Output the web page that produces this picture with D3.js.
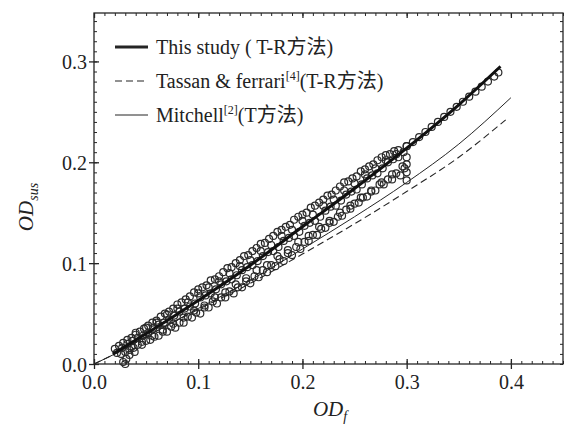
<!DOCTYPE html>
<html>
<head>
<meta charset="utf-8">
<script src="https://cdn.jsdelivr.net/npm/d3@7"></script>
<style>
  body { margin: 0; background: #fff; }
  svg text { font-family: "Liberation Serif", "Times New Roman", "Noto Sans CJK SC", serif; fill: #222; }
</style>
</head>
<body>
<div id="chart"></div>
<script>
// tick labels
var xTicks = [0.0, 0.1, 0.2, 0.3, 0.4];
var yTicks = [0.0, 0.1, 0.2, 0.3];

var trackUpper = [[0.020,0.015],[0.028,0.021],[0.036,0.026],[0.044,0.032],[0.052,0.038],[0.060,0.043],[0.068,0.050],[0.076,0.055],[0.084,0.061],[0.092,0.067],[0.100,0.074],[0.108,0.078],[0.116,0.084],[0.124,0.091],[0.132,0.096],[0.140,0.103],[0.148,0.108],[0.156,0.115],[0.164,0.120],[0.172,0.127],[0.180,0.133],[0.188,0.138],[0.196,0.146],[0.204,0.150],[0.212,0.157],[0.220,0.163],[0.228,0.168],[0.236,0.176],[0.244,0.181],[0.252,0.186],[0.260,0.193],[0.268,0.198],[0.276,0.205],[0.284,0.208],[0.292,0.212],[0.300,0.216]];
var trackUpper2 = [[0.024,0.018],[0.032,0.024],[0.040,0.031],[0.048,0.035],[0.056,0.041],[0.064,0.047],[0.072,0.052],[0.080,0.059],[0.088,0.064],[0.096,0.071],[0.104,0.076],[0.112,0.083],[0.120,0.087],[0.128,0.095],[0.136,0.100],[0.144,0.107],[0.152,0.112],[0.160,0.119],[0.168,0.124],[0.176,0.131],[0.184,0.136],[0.192,0.143],[0.200,0.148],[0.208,0.155],[0.216,0.160],[0.224,0.167],[0.232,0.172],[0.240,0.180],[0.248,0.184],[0.256,0.191],[0.264,0.196],[0.272,0.202],[0.280,0.207],[0.288,0.211]];
var trackMidUpper = [[0.040,0.029],[0.050,0.036],[0.060,0.041],[0.070,0.049],[0.080,0.055],[0.090,0.061],[0.100,0.070],[0.110,0.076],[0.120,0.082],[0.130,0.090],[0.140,0.097],[0.150,0.103],[0.160,0.112],[0.170,0.118],[0.180,0.127],[0.190,0.133],[0.200,0.142],[0.210,0.148],[0.220,0.157],[0.230,0.163],[0.240,0.172],[0.250,0.179],[0.260,0.188],[0.270,0.194],[0.280,0.202],[0.290,0.208]];
var trackCenter = [[0.022,0.011],[0.032,0.020],[0.042,0.026],[0.052,0.031],[0.062,0.039],[0.072,0.044],[0.082,0.052],[0.092,0.057],[0.102,0.066],[0.112,0.070],[0.122,0.079],[0.132,0.084],[0.142,0.093],[0.152,0.098],[0.162,0.107],[0.172,0.112],[0.182,0.122],[0.192,0.127],[0.202,0.137],[0.212,0.142],[0.222,0.152],[0.232,0.157],[0.242,0.168],[0.252,0.173],[0.262,0.184],[0.272,0.189],[0.282,0.200],[0.292,0.205],[0.300,0.216],[0.306,0.220],[0.312,0.225],[0.318,0.230],[0.324,0.235],[0.330,0.240],[0.336,0.245],[0.342,0.250],[0.348,0.255],[0.354,0.260],[0.360,0.265],[0.366,0.270],[0.372,0.275],[0.378,0.280],[0.384,0.285],[0.388,0.289]];
var trackCenter2 = [[0.027,0.016],[0.037,0.023],[0.047,0.028],[0.057,0.036],[0.067,0.041],[0.077,0.048],[0.087,0.055],[0.097,0.060],[0.107,0.068],[0.117,0.074],[0.127,0.082],[0.137,0.088],[0.147,0.096],[0.157,0.102],[0.167,0.111],[0.177,0.116],[0.187,0.125],[0.197,0.131],[0.207,0.140],[0.217,0.146],[0.227,0.156],[0.237,0.162],[0.247,0.171],[0.257,0.178],[0.267,0.187],[0.277,0.194],[0.287,0.203],[0.297,0.210]];
var trackMidLower = [[0.026,0.010],[0.036,0.017],[0.046,0.022],[0.056,0.028],[0.066,0.034],[0.076,0.040],[0.086,0.046],[0.096,0.053],[0.106,0.058],[0.116,0.066],[0.126,0.071],[0.136,0.079],[0.146,0.085],[0.156,0.093],[0.166,0.098],[0.176,0.107],[0.186,0.113],[0.196,0.121],[0.206,0.127],[0.216,0.136],[0.226,0.142],[0.236,0.150],[0.246,0.157],[0.256,0.165],[0.266,0.172],[0.276,0.180],[0.286,0.188],[0.296,0.196]];
var trackLower = [[0.030,0.012],[0.038,0.016],[0.046,0.019],[0.054,0.024],[0.062,0.028],[0.070,0.032],[0.078,0.036],[0.086,0.041],[0.094,0.046],[0.102,0.050],[0.110,0.056],[0.118,0.060],[0.126,0.066],[0.134,0.070],[0.142,0.076],[0.150,0.080],[0.158,0.086],[0.166,0.091],[0.174,0.097],[0.182,0.102],[0.190,0.108],[0.198,0.114],[0.206,0.122],[0.214,0.128],[0.222,0.135],[0.230,0.141],[0.238,0.147],[0.246,0.154],[0.254,0.160],[0.262,0.166],[0.270,0.172],[0.278,0.178],[0.286,0.183],[0.294,0.187],[0.300,0.190]];
var trackLower2 = [[0.034,0.014],[0.042,0.019],[0.050,0.023],[0.058,0.027],[0.066,0.032],[0.074,0.037],[0.082,0.041],[0.090,0.047],[0.098,0.051],[0.106,0.056],[0.114,0.062],[0.122,0.066],[0.130,0.072],[0.138,0.076],[0.146,0.082],[0.154,0.087],[0.162,0.093],[0.170,0.098],[0.178,0.104],[0.186,0.110],[0.194,0.116],[0.202,0.121],[0.210,0.128],[0.218,0.134],[0.226,0.140],[0.234,0.146],[0.242,0.153],[0.250,0.159],[0.258,0.165],[0.266,0.171],[0.274,0.178],[0.282,0.183],[0.290,0.189],[0.298,0.194]];
var trackOdd = [[0.028,0.002],[0.030,0.000],[0.031,0.005],[0.034,0.009],[0.039,0.012],[0.300,0.182],[0.300,0.198],[0.300,0.205]];

// fitted curves
var thisStudy = [[0.018,0.010],[0.05,0.030],[0.10,0.063],[0.15,0.098],[0.20,0.136],[0.25,0.174],[0.30,0.214],[0.35,0.257],[0.39,0.295]];
var tassan = [[0.0,0.0],[0.02,0.010],[0.05,0.027],[0.10,0.054],[0.15,0.080],[0.20,0.109],[0.25,0.139],[0.30,0.171],[0.35,0.205],[0.395,0.242]];
var mitchell = [[0.0,0.0],[0.02,0.010],[0.05,0.027],[0.10,0.055],[0.15,0.083],[0.20,0.114],[0.25,0.146],[0.30,0.180],[0.35,0.218],[0.40,0.264]];

var width = 569, height = 426;
var plotLeft = 94, plotRight = 563, plotTop = 13, plotBottom = 364;

var svg = d3.select("#chart").append("svg").attr("width", width).attr("height", height);

var x = d3.scaleLinear().domain([0, 0.45]).range([plotLeft, plotRight]);
var y = d3.scaleLinear().domain([0, 0.348]).range([plotBottom, plotTop]);

var ink = "#252525";

// frame
svg.append("rect")
  .attr("x", plotLeft).attr("y", plotTop)
  .attr("width", plotRight - plotLeft).attr("height", plotBottom - plotTop)
  .attr("fill", "none").attr("stroke", ink).attr("stroke-width", 1.3);

// minor ticks every 0.01
var xMinor = d3.range(0, 46).map(function (i) { return i / 100; });
var yMinor = d3.range(0, 35).map(function (i) { return i / 100; });

function minorTicks(axis, g) {
  g.call(axis);
  g.select(".domain").remove();
  g.selectAll("text").remove();
  g.selectAll("line").attr("stroke", ink).attr("stroke-width", 1);
}

minorTicks(d3.axisBottom(x).tickValues(xMinor).tickSize(-3), svg.append("g").attr("transform", "translate(0," + plotBottom + ")"));
minorTicks(d3.axisTop(x).tickValues(xMinor).tickSize(-3), svg.append("g").attr("transform", "translate(0," + plotTop + ")"));
minorTicks(d3.axisLeft(y).tickValues(yMinor).tickSize(-3), svg.append("g").attr("transform", "translate(" + plotLeft + ",0)"));
minorTicks(d3.axisRight(y).tickValues(yMinor).tickSize(-3), svg.append("g").attr("transform", "translate(" + plotRight + ",0)"));

// major axes with crossing ticks
var xAxis = svg.append("g")
  .attr("transform", "translate(0," + plotBottom + ")")
  .call(d3.axisBottom(x).tickValues(xTicks).tickFormat(d3.format(".1f")).tickSize(5).tickPadding(6));
xAxis.select(".domain").remove();
xAxis.selectAll("line").attr("y1", -5).attr("stroke", ink).attr("stroke-width", 1.3);
xAxis.selectAll("text").attr("font-size", 20).attr("fill", ink);

var yAxis = svg.append("g")
  .attr("transform", "translate(" + plotLeft + ",0)")
  .call(d3.axisLeft(y).tickValues(yTicks).tickFormat(d3.format(".1f")).tickSize(5).tickPadding(2));
yAxis.select(".domain").remove();
yAxis.selectAll("line").attr("x1", 5).attr("stroke", ink).attr("stroke-width", 1.3);
yAxis.selectAll("text").attr("font-size", 20).attr("fill", ink).attr("dy", "0.35em");

var topAxis = svg.append("g")
  .attr("transform", "translate(0," + plotTop + ")")
  .call(d3.axisTop(x).tickValues(xTicks).tickSize(-5).tickFormat(""));
topAxis.select(".domain").remove();
topAxis.selectAll("line").attr("stroke", ink).attr("stroke-width", 1.3);

// scatter
var allPoints = [].concat(trackUpper, trackUpper2, trackMidUpper, trackCenter, trackCenter2,
  trackMidLower, trackLower, trackLower2, trackOdd);
svg.append("g").selectAll("circle")
  .data(allPoints)
  .enter()
  .append("circle")
  .attr("cx", function (d) { return x(d[0]); })
  .attr("cy", function (d) { return y(d[1]); })
  .attr("r", 3.5)
  .attr("fill", "none")
  .attr("stroke", "#2a2a2a")
  .attr("stroke-width", 1.2);

var line = d3.line()
  .x(function (d) { return x(d[0]); })
  .y(function (d) { return y(d[1]); })
  .curve(d3.curveMonotoneX);

svg.append("path").datum(mitchell).attr("d", line)
  .attr("fill", "none").attr("stroke", ink).attr("stroke-width", 1);
svg.append("path").datum(tassan).attr("d", line)
  .attr("fill", "none").attr("stroke", ink).attr("stroke-width", 1.1).attr("stroke-dasharray", "7,4");
svg.append("path").datum(thisStudy).attr("d", line)
  .attr("fill", "none").attr("stroke", "#111").attr("stroke-width", 3);

// legend
var legend = svg.append("g");
var rows = [
  { y: 47, width: 3, dash: null, parts: [["This study ( T-R方法)", 0]] },
  { y: 81, width: 1.1, dash: "7,4", parts: [["Tassan & ferrari", 0], ["[4]", 1], ["(T-R方法)", 0]] },
  { y: 115, width: 1, dash: null, parts: [["Mitchell", 0], ["[2]", 1], ["(T方法)", 0]] }
];
rows.forEach(function (r) {
  legend.append("line")
    .attr("x1", 115).attr("x2", 148).attr("y1", r.y).attr("y2", r.y)
    .attr("stroke", ink).attr("stroke-width", r.width)
    .attr("stroke-dasharray", r.dash);
  var t = legend.append("text").attr("x", 156).attr("y", r.y + 7).attr("font-size", 20);
  r.parts.forEach(function (p) {
    var s = t.append("tspan").text(p[0]);
    if (p[1]) {
      s.attr("font-size", 12).attr("dy", -8);
    } else if (t.selectAll("tspan").size() > 1) {
      s.attr("dy", 8);
    }
  });
});

// axis titles
var xTitle = svg.append("text")
  .attr("x", 330).attr("y", 416)
  .attr("text-anchor", "middle")
  .attr("font-size", 21).attr("font-style", "italic");
xTitle.append("tspan").text("OD");
xTitle.append("tspan").text("f").attr("font-size", 14).attr("dy", 5);

var yTitle = svg.append("text")
  .attr("transform", "translate(33,207)rotate(-90)")
  .attr("text-anchor", "middle")
  .attr("font-size", 21).attr("font-style", "italic");
yTitle.append("tspan").text("OD");
yTitle.append("tspan").text("sus").attr("font-size", 14).attr("dy", 5);
</script>
</body>
</html>
